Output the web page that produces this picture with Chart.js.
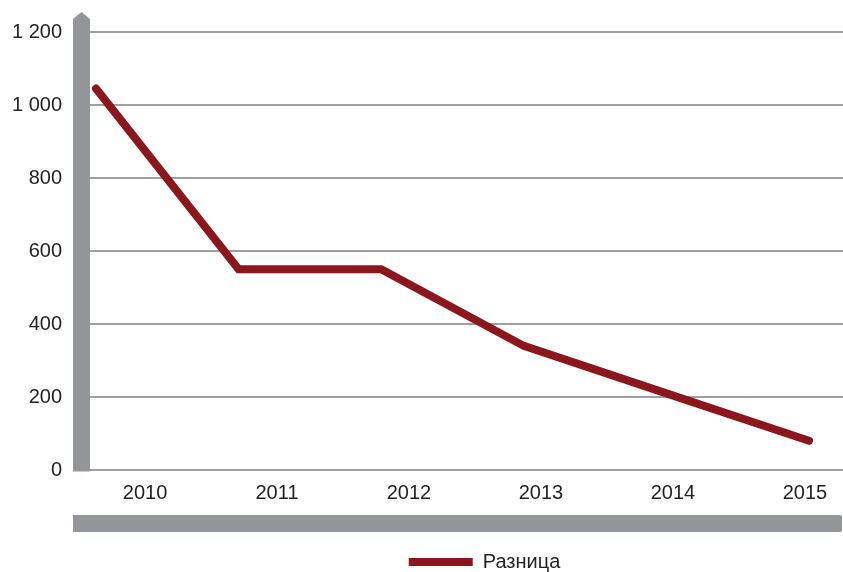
<!DOCTYPE html>
<html lang="ru">
<head>
<meta charset="utf-8">
<title>Разница</title>
<script src="https://cdn.jsdelivr.net/npm/chart.js@4/dist/chart.umd.min.js"></script>
<style>
  html, body { margin: 0; padding: 0; background: #ffffff; }
  #wrap { width: 843px; height: 572px; position: relative; }
</style>
</head>
<body>
<div id="wrap"><canvas id="chart" width="843" height="572"></canvas></div>
<script>
// Years along the bottom
const years = ['2010', '2011', '2012', '2013', '2014', '2015'];
// Difference per year
const seriesName = 'Разница';
const diffValues = [1045, 550, 550, 340, 210, 80];
// Value axis
const yTicks = [0, 200, 400, 600, 800, 1000, 1200];

const LINE_RED = '#8b161c';
const BAR_GREY = '#939598';
const GRID_GREY = '#9d9fa2';
const TEXT = '#231f20';
const FONT = { family: '"Liberation Sans", Arial, Helvetica, sans-serif', size: 20 };

const fmt = v => String(v).replace(/\B(?=(\d{3})+(?!\d))/g, ' ');

// Grey frame pieces: left axis bar with arrow head and bottom band
const framePlugin = {
  id: 'frame',
  beforeDatasetsDraw(chart) {
    const { ctx, chartArea } = chart;
    const xl = chart.scales.xl;
    const left = chartArea.left - 17;
    const right = chartArea.left;
    const mid = (left + right) / 2;
    const top = chartArea.top;
    ctx.save();
    ctx.fillStyle = BAR_GREY;
    ctx.beginPath();
    ctx.moveTo(left, chartArea.bottom + 1.5);
    ctx.lineTo(left, top - 13);
    ctx.lineTo(mid, top - 20);
    ctx.lineTo(right, top - 13);
    ctx.lineTo(right, chartArea.bottom + 1.5);
    ctx.closePath();
    ctx.fill();
    // bottom band
    const bandBottom = xl.bottom;
    ctx.beginPath();
    ctx.roundRect(left, bandBottom - 17, chart.width - 1 - left, 17, [0, 2, 2, 0]);
    ctx.fill();
    ctx.restore();
  }
};

// Legend placement under the band
const legendShift = {
  id: 'legendShift',
  afterLayout(chart) {
    const lg = chart.legend;
    if (!lg) return;
    lg.left += 63; lg.right += 63;
    lg.top += 10; lg.bottom += 10;
  }
};

new Chart(document.getElementById('chart'), {
  type: 'line',
  data: {
    datasets: [{
      label: seriesName,
      data: diffValues.map((v, i) => ({ x: i, y: v })),
      xAxisID: 'x',
      yAxisID: 'y',
      borderColor: LINE_RED,
      backgroundColor: LINE_RED,
      borderWidth: 8,
      borderCapStyle: 'round',
      borderJoinStyle: 'miter',
      pointRadius: 0,
      pointHoverRadius: 0,
      tension: 0,
      fill: false
    }]
  },
  options: {
    responsive: false,
    animation: false,
    devicePixelRatio: 1,
    layout: { padding: { top: 32, left: 0, right: 0, bottom: 0 } },
    plugins: {
      tooltip: { enabled: false },
      legend: {
        position: 'bottom',
        labels: {
          usePointStyle: true,
          pointStyle: 'line',
          pointStyleWidth: 64,
          color: TEXT,
          font: FONT,
          padding: 10
        }
      }
    },
    scales: {
      x: {
        type: 'linear',
        display: false,
        min: -0.042,
        max: 5.238
      },
      xl: {
        type: 'linear',
        position: 'bottom',
        min: -0.4167,
        max: 5.288,
        grid: { display: false, drawTicks: false },
        border: { display: false },
        ticks: {
          stepSize: 1,
          includeBounds: false,
          autoSkip: false,
          maxRotation: 0,
          padding: 11,
          color: TEXT,
          font: FONT,
          callback: v => (Number.isInteger(v) && years[v]) ? years[v] : ''
        },
        afterFit(scale) { scale.height = 62; }
      },
      y: {
        type: 'linear',
        min: yTicks[0],
        max: yTicks[yTicks.length - 1],
        afterBuildTicks(scale) { scale.ticks = yTicks.map(v => ({ value: v })); },
        grid: {
          color: GRID_GREY,
          lineWidth: 2,
          drawTicks: true,
          tickLength: 24,
          tickColor: 'rgba(0,0,0,0)'
        },
        border: { display: false },
        ticks: {
          padding: 4,
          color: TEXT,
          font: FONT,
          callback: v => fmt(v)
        },
        afterFit(scale) { scale.width = 90; }
      }
    }
  },
  plugins: [framePlugin, legendShift]
});
</script>
</body>
</html>
